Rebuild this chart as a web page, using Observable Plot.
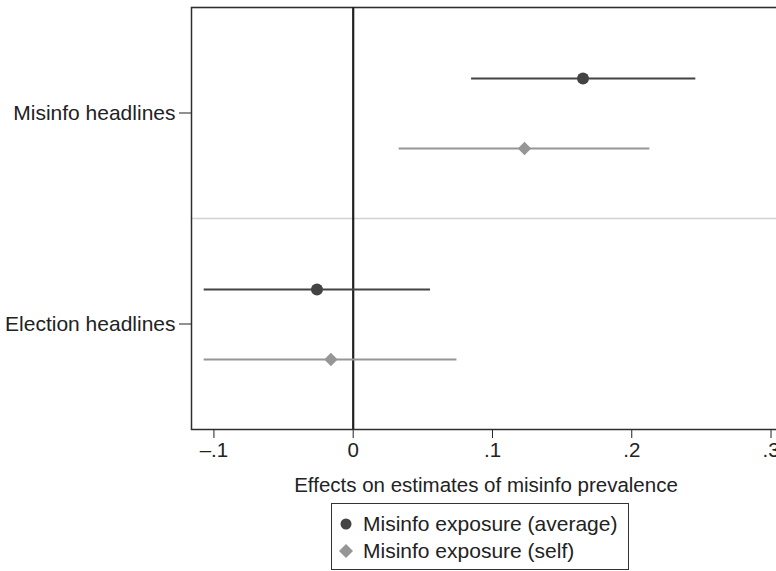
<!DOCTYPE html>
<html><head><meta charset="utf-8">
<script src="https://cdn.jsdelivr.net/npm/d3@7"></script>
<script src="https://cdn.jsdelivr.net/npm/@observablehq/plot@0.6"></script>
<style>
html,body{margin:0;padding:0;background:#fff;overflow:hidden;}
body{position:relative;width:776px;height:571px;font-family:"Liberation Sans",Arial,Helvetica,sans-serif;color:#222;}
#chart{width:776px;overflow:hidden;}
#chart svg{display:block;max-width:none !important;}
#legend{position:absolute;left:331px;top:503px;width:298px;height:67px;box-sizing:border-box;border:1.4px solid #333;background:#fff;}
.row{position:absolute;left:0;height:26px;display:flex;align-items:center;font-size:21px;white-space:nowrap;}
.row svg{width:16px;height:16px;margin-left:6px;margin-right:9px;}
</style></head><body><div id="chart"></div><div id="legend"></div>
<script>
const groups = ["Misinfo headlines", "Election headlines"];
const seriesKeys = ["average", "self"];
const seriesNames = ["Misinfo exposure (average)", "Misinfo exposure (self)"];
const estAverage = [0.165, -0.026];
const loAverage = [0.085, -0.107];
const hiAverage = [0.246, 0.0555];
const estSelf = [0.123, -0.016];
const loSelf = [0.033, -0.107];
const hiSelf = [0.213, 0.0745];
const xTicks = [-0.1, 0, 0.1, 0.2, 0.3];
const xTickLabels = ["\u2013.1", "0", ".1", ".2", ".3"];
const xLabel = "Effects on estimates of misinfo prevalence";
const seriesColors = ["#434343", "#969696"];
const seriesSymbols = ["circle", "diamond2"];

const rows = [];
groups.forEach((g, i) => {
  rows.push({group: g, series: "average", est: estAverage[i], lo: loAverage[i], hi: hiAverage[i]});
  rows.push({group: g, series: "self", est: estSelf[i], lo: loSelf[i], hi: hiSelf[i]});
});

const chart = Plot.plot({
  width: 780,
  height: 498,
  marginLeft: 191,
  marginRight: 0,
  marginTop: 6,
  marginBottom: 68.5,
  style: {fontSize: "20.5px", fontFamily: "'Liberation Sans', Arial, Helvetica, sans-serif", color: "#222", background: "#fff", overflow: "visible", maxWidth: "none"},
  x: {domain: [-0.1161, 0.3068], ticks: xTicks, tickFormat: d => xTickLabels[xTicks.indexOf(d)], tickSize: 9, tickPadding: 4, label: xLabel, labelAnchor: "center", labelArrow: "none", labelOffset: 62},
  y: {domain: seriesKeys, type: "point", padding: 1, axis: null},
  fy: {domain: groups, padding: 0, axis: null, label: null},
  color: {domain: seriesKeys, range: seriesColors},
  symbol: {domain: seriesKeys, range: seriesSymbols},
  marks: [
    Plot.axisFy({anchor: "left", tickSize: 12, tickPadding: 4, label: null, fontSize: 21}),
    Plot.frame({anchor: "top", stroke: "#d2d2d2", strokeWidth: 1.5, strokeOpacity: 1}),
    Plot.frame({facet: "super", stroke: "#2e2e2e", strokeWidth: 1.5, strokeOpacity: 1}),
    Plot.ruleX([0], {stroke: "#231f20", strokeWidth: 2.2}),
    Plot.ruleY(rows, {y: "series", fy: "group", x1: "lo", x2: "hi", stroke: "series", strokeWidth: 1.8}),
    Plot.dot(rows, {x: "est", y: "series", fy: "group", fill: "series", symbol: "series", r: 6, stroke: "none"})
  ]
});
document.getElementById("chart").appendChild(chart);

const legend = document.getElementById("legend");
seriesKeys.forEach((k, i) => {
  const row = document.createElement("div");
  row.className = "row";
  row.style.top = (7 + i * 27) + "px";
  const sym = seriesSymbols[i] === "circle"
    ? `<circle cx="8" cy="8" r="5.5" fill="${seriesColors[i]}"/>`
    : `<polygon points="8,1 15,8 8,15 1,8" fill="${seriesColors[i]}"/>`;
  row.innerHTML = `<svg viewBox="0 0 16 16">${sym}</svg><span>${seriesNames[i]}</span>`;
  legend.appendChild(row);
});
</script>
</body></html>
